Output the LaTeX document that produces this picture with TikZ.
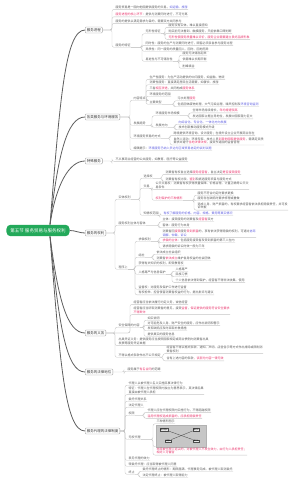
\documentclass[tikz,border=0pt]{standalone}
\usepackage{fontspec}
\setmainfont{Noto Sans CJK SC}
\usepackage{tikz}

\definecolor{txtc}{HTML}{595959}
\definecolor{redc}{HTML}{E8336B}
\definecolor{bluec}{HTML}{5B5BE0}
\definecolor{linec}{HTML}{C4C4C4}
\definecolor{trunkc}{HTML}{5E5E5E}
\definecolor{rootc}{HTML}{23A95A}
\definecolor{imgc}{HTML}{C6C6C6}

\newcommand\hlr[1]{\textcolor{redc}{#1}}
\newcommand\hlb[1]{\textcolor{bluec}{#1}}
% ramo da un'etichetta sottolineata / da un riquadro
\newcommand\lnk[2]{\draw[branch] (#1.south east) -| ([xshift=-3pt]#2.south west) -- (#2.south east);}
\newcommand\tlnk[2]{\draw[branch] (#1.east) -| ([xshift=-3pt]#2.south west) -- (#2.south east);}

\tikzset{
  leaf/.style={anchor=west, inner xsep=0.4pt, inner ysep=0.7pt, text=txtc, align=left,
    font=\fontsize{3}{3.6}\selectfont},
  topic/.style={draw=gray!75, line width=0.4pt, rounded corners=1pt, fill=white, anchor=west,
    inner xsep=1.6pt, inner ysep=1.4pt, text=black!80, font=\fontsize{3.5}{4}\selectfont},
  central/.style={fill=rootc, rounded corners=4pt, text=white, inner xsep=4pt, inner ysep=3.6pt,
    font=\fontsize{4.5}{5}\selectfont},
  branch/.style={draw=linec, line width=0.35pt, rounded corners=2pt},
  trunk/.style={draw=trunkc, line width=0.8pt},
  imgbox/.style={draw=black!70, fill=white!85!gray, line width=0.2pt, inner sep=0.5pt,
    font=\fontsize{1.8}{2}\selectfont},
}

\begin{document}
\begin{tikzpicture}[x=1pt, y=-1pt]
  \useasboundingbox (0,0) rectangle (300,484);

  % Nodo centrale
  \node[central] (root) at (38,230.5) {第五节 服务贸易与服务权利};
  \coordinate (up) at ([xshift=12pt]root.north);
  \coordinate (dn) at ([xshift=12pt]root.south);

  % Rami principali
  \node[topic] (t1) at (85,30) {服务进程};
  \node[topic] (t2) at (85,117) {各类服务与环境服务};
  \node[topic] (t3) at (85,161) {特殊服务};
  \node[topic] (t4) at (85,233) {服务的权利};
  \node[topic] (t5) at (85,333) {服务的义务};
  \node[topic] (t6) at (85,372) {服务的法律地位};
  \node[topic] (t7) at (85,431) {服务代理的法律制度};

  \draw[trunk] (up) .. controls +(10,-124) and +(-20,0) .. (t1.west);
  \draw[trunk] (up) .. controls +(8,-70) and +(-18,0) .. (t2.west);
  \draw[trunk] (up) .. controls +(6,-40) and +(-16,0) .. (t3.west);
  \draw[trunk] (root.east) .. controls +(6,0) and +(-6,0) .. (t4.west);
  \draw[trunk] (dn) .. controls +(8,62) and +(-18,0) .. (t5.west);
  \draw[trunk] (dn) .. controls +(9,88) and +(-19,0) .. (t6.west);
  \draw[trunk] (dn) .. controls +(10,126) and +(-20,0) .. (t7.west);

  % Servizio: processo
  \node[leaf] (a1) at (115,7) {服务贸易是一国向他国提供服务的交易，\hlb{如运输、旅游}};
  \node[leaf] (a2) at (115,14.5) {\hlr{服务进程的核心环节}：提供与消费同时进行，不可分离};
  \node[leaf] (a3) at (115,21) {服务的提供以满足需求为目的，需要双方共同参与};
  \node[leaf] (a4) at (115,45) {服务的特征};
  \node[leaf] (b1) at (145,31.5) {无形性特征};
  \node[leaf] (c1) at (168,25) {服务没有实体，难以直接感知};
  \node[leaf] (c2) at (168,31) {购买前无法看到、触摸服务，只能依靠口碑判断};
  \node[leaf, text=redc] (c3) at (168,37) {无形性使服务质量难以评价，服务企业需要建立良好品牌形象};
  \node[leaf] (b2) at (145,43) {同时性：服务的生产与消费同时进行，顾客必须亲自参与服务过程};
  \node[leaf] (b3) at (145,49) {异质性：同一服务的质量因人、因时、因地而异};
  \node[leaf] (b4) at (145,59) {易逝性与不可储存性};
  \node[leaf] (c4) at (182,53) {服务无法储存起来};
  \node[leaf] (c5) at (182,59.5) {供需难以长期平衡};
  \node[leaf] (c6) at (182,66) {削峰填谷};
  \foreach \c in {a1,a2,a3,a4} {\tlnk{t1}{\c}}
  \foreach \c in {b1,b2,b3,b4} {\lnk{a4}{\c}}
  \foreach \c in {c1,c2,c3} {\lnk{b1}{\c}}
  \foreach \c in {c4,c5,c6} {\lnk{b4}{\c}}

  % Servizi ambientali
  \node[leaf] (d4) at (133,98) {内容特点};
  \node[leaf] (d1) at (149,77) {生产性服务：为生产活动提供的中间服务，如金融、物流};
  \node[leaf] (d2) at (149,82.5) {消费性服务：直接满足居民生活需要，如餐饮、旅游};
  \node[leaf] (d3) at (149,88) {三者\hlr{相互渗透}，共同构成\hlr{服务体系}};
  \node[leaf] (e1) at (149,94) {环境服务的范围};
  \node[leaf] (e2) at (149,102) {主要类型};
  \node[leaf] (f1) at (177,98.5) {污水处理\hlr{服务}};
  \node[leaf] (f2) at (177,104.5) {包括固体废物处理、大气污染治理、噪声控制及\hlb{环境咨询监测}};
  \node[leaf] (d5) at (133,123) {发展趋势};
  \node[leaf] (e3) at (155,113.5) {环境服务市场规模};
  \node[leaf] (f3) at (192,110.5) {全球市场持续增长，\hlr{年均增速较高}};
  \node[leaf] (f4) at (192,116.5) {发达国家占据主导地位，发展中国家潜力巨大};
  \node[leaf] (e4) at (155,125) {发展方向};
  \node[leaf, text=bluec] (f5) at (178,122) {向综合化、专业化、一体化方向发展};
  \node[leaf] (f6) at (178,127.5) {技术创新推动服务模式升级};
  \node[leaf] (d6) at (133,136) {环境服务贸易的方式};
  \node[leaf] (e5) at (173,133) {跨境提供环境咨询、设计服务；在境外设立企业开展商业存在};
  \node[leaf] (e6) at (173,140.8) {自然人流动：环境专家、技术人员\hlr{到其他国家提供服务}，需满足资质\\要求并遵守\hlr{当地法律法规}，接受东道国的监督管理};
  \node[leaf] (d7) at (133,148) {编辑提示：\hlb{环境服务已纳入多边与区域贸易协定的谈判议题}};
  \foreach \c in {d4,d5,d6,d7} {\tlnk{t2}{\c}}
  \foreach \c in {d1,d2,d3,e1,e2} {\lnk{d4}{\c}}
  \foreach \c in {f1,f2} {\lnk{e2}{\c}}
  \foreach \c in {e3,e4} {\lnk{d5}{\c}}
  \foreach \c in {f3,f4} {\lnk{e3}{\c}}
  \foreach \c in {f5,f6} {\lnk{e4}{\c}}
  \foreach \c in {e5,e6} {\lnk{d6}{\c}}

  % Servizi speciali
  \node[leaf] (g1) at (115,159) {不从事商业经营的公共服务，如教育、医疗等公益服务};
  \tlnk{t3}{g1}

  % Diritti
  \node[leaf] (r1) at (118,197) {实体权利};
  \node[leaf] (i1) at (143,176) {选择权};
  \node[leaf] (j1) at (165,172) {消费者有权自主选择\hlr{服务经营者}，自主决定\hlr{是否接受服务}};
  \node[leaf] (j2) at (165,179) {消费者有权比较、\hlr{鉴别}和挑选服务项目与服务方式};
  \node[leaf] (i2) at (143,186) {交易};
  \node[leaf] (j3) at (155,185.5) {公平交易权：消费者有权获得质量保障、价格合理、计量正确等公平交\\易条件};
  \node[leaf, text=redc] (j4) at (155,198) {权利保护的三种情形};
  \node[leaf] (k1) at (197,193) {服务不符合约定时要求更换};
  \node[leaf] (k2) at (197,198.5) {服务存在缺陷时要求修理或重做};
  \node[leaf] (k3) at (197,206) {造成人身、财产损害的，有权要求经营者依法承担赔偿责任，并可投\\诉举报};
  \node[leaf] (i3) at (143,213) {知情权范围};
  \node[leaf, text=bluec] (j5) at (163,213) {有权了解服务的价格、内容、规格、费用等真实情况};
  \node[leaf] (r2) at (118,223) {服务权利主体与客体};
  \node[leaf] (j6) at (162,219.5) {主体：接受服务的消费者及\hlr{经营者}双方};
  \node[leaf] (j7) at (162,225.5) {客体：服务行为本身};
  \node[leaf] (r3) at (118,267) {程序上};
  \node[leaf] (i4) at (138,239) {求偿权利};
  \node[leaf] (j8) at (162,233.5) {消费者因\hlr{接受}服务\hlr{受到损害}的，享有依法获得赔偿的权利，可通过\hlb{协商}\\\hlb{调解、仲裁、诉讼}};
  \node[leaf] (j9) at (162,240.5) {\hlr{求偿的主体}：包括服务接受者及受到损害的第三人在内};
  \node[leaf] (j10) at (162,246) {请求赔偿的诉讼时效一般为三年};
  \node[leaf] (i5) at (138,255) {结社};
  \node[leaf] (j11) at (156,252) {依法成立社会组织};
  \node[leaf] (j12) at (156,258) {消费者\hlr{依法成立}维护自身权益的社会团体};
  \node[leaf] (i6) at (138,263.5) {获得有关知识的权利，即受教育权};
  \node[leaf] (i7) at (138,272) {人格尊严与信息保护};
  \node[leaf] (j13) at (175,269) {人格尊严};
  \node[leaf] (j14) at (175,274.5) {民族习惯};
  \node[leaf] (j15) at (175,280) {个人信息依法得到保护，经营者不得非法收集、使用};
  \node[leaf] (i8) at (138,287) {监督权：对服务及保护工作进行监督};
  \node[leaf] (i9) at (138,292.5) {有权检举、控告侵害消费者权益的行为，提出批评与建议};
  \foreach \c in {r1,r2,r3} {\tlnk{t4}{\c}}
  \foreach \c in {i1,i2,i3} {\lnk{r1}{\c}}
  \foreach \c in {j1,j2} {\lnk{i1}{\c}}
  \foreach \c in {j3,j4} {\lnk{i2}{\c}}
  \foreach \c in {k1,k2,k3} {\lnk{j4}{\c}}
  \lnk{i3}{j5}
  \foreach \c in {j6,j7} {\lnk{r2}{\c}}
  \foreach \c in {i4,i5,i6,i7,i8,i9} {\lnk{r3}{\c}}
  \foreach \c in {j8,j9,j10} {\lnk{i4}{\c}}
  \foreach \c in {j11,j12} {\lnk{i5}{\c}}
  \foreach \c in {j13,j14,j15} {\lnk{i7}{\c}}

  % Obblighi
  \node[leaf] (l1) at (133,302) {经营者应当依法履行约定义务，诚信经营};
  \node[leaf] (l2) at (133,310.5) {经营者应当听取消费者的意见，接受\hlr{监督}，\hlr{保证提供的服务符合安全要求}\\\hlr{不得欺诈}};
  \node[leaf] (l3) at (118,325) {安全保障的内容};
  \node[leaf] (m1) at (147,318) {如实说明};
  \node[leaf] (m2) at (147,323) {对可能危及人身、财产安全的服务，应作出说明和警示};
  \node[leaf] (m3) at (147,328.5) {发现缺陷应及时采取补救措施};
  \node[leaf] (m4) at (147,334) {提供真实的服务信息};
  \node[leaf] (l4) at (118,341.5) {出具凭证义务：提供服务应当按照国家规定或商业惯例向消费者出具\\发票等服务凭证单据};
  \node[leaf] (l5) at (118,355) {不得以格式条款作出不公平规定};
  \node[leaf] (m5) at (166,349.5) {经营者不得以格式条款、通知、声明、店堂告示等方式作出排除或限制消\\费者权利};
  \node[leaf] (m6) at (166,358.5) {含有上述内容的条款\hlr{，该部分内容一律无效}};
  \foreach \c in {l1,l2,l3,l4,l5} {\tlnk{t5}{\c}}
  \foreach \c in {m1,m2,m3,m4} {\lnk{l3}{\c}}
  \foreach \c in {m5,m6} {\lnk{l5}{\c}}

  % Posizione giuridica
  \node[leaf] (n1) at (127,369) {服务属于\hlr{有名合同}的范畴};
  \tlnk{t6}{n1}

  % Rappresentanza
  \node[leaf] (o1) at (128,383) {代理人以被代理人名义实施民事法律行为};
  \node[leaf] (o2) at (128,390.5) {特征：代理人在代理权限内独立为意思表示，其法律后果\\直接由被代理人承担};
  \node[leaf] (o3) at (128,399) {委托代理关系};
  \node[leaf] (o4) at (128,405) {法定代理人};
  \node[leaf] (o5) at (128,413) {权限};
  \node[leaf] (p1) at (147,410) {代理人应在代理权限内实施行为，不得超越权限};
  \node[leaf, text=redc] (p2) at (147,416) {滥用代理权造成损害的，应承担赔偿责任};
  \node[leaf] (o6) at (128,437) {无权代理};
  \node[leaf] (p3) at (156,421.5) {三种情形图示};
  \node[anchor=north west, fill=imgc, draw=gray!60, line width=0.3pt, minimum width=50pt,
    minimum height=22pt, inner sep=0pt] (p4) at (156,424.5) {};
  \node[leaf, text=redc] (p5) at (156,451) {未经被代理人追认的，对被代理人不发生效力，由行为人承担责任；\\相对人可催告};
  \node[leaf] (o7) at (128,458) {表见代理的效力};
  \node[leaf] (o8) at (128,464) {转委托代理：应当取得被代理人同意};
  \node[leaf] (o9) at (128,472) {终止};
  \node[leaf] (p6) at (142,469) {委托代理终止的情形：期限届满、代理事务完成、被代理人取消委托};
  \node[leaf] (p7) at (142,475) {法定代理终止：被代理人取得能力};
  \foreach \c in {o1,o2,o3,o4,o5,o6,o7,o8,o9} {\tlnk{t7}{\c}}
  \foreach \c in {p1,p2} {\lnk{o5}{\c}}
  \foreach \c in {p3,p4,p5} {\lnk{o6}{\c}}
  \foreach \c in {p6,p7} {\lnk{o9}{\c}}

  % schema nell'immagine
  \node[imgbox] (q1) at (164,429.5) {被代理人};
  \node[imgbox] (q2) at (196,429.5) {相对人};
  \node[imgbox] (q3) at (168,441) {代理人};
  \node[imgbox] (q4) at (196,441) {第三人};
  \draw[black!75, line width=0.3pt] (q1.south east) -- (q4.north west);
  \draw[black!75, line width=0.3pt] (q2.south west) -- (q3.north east);
\end{tikzpicture}
\end{document}
